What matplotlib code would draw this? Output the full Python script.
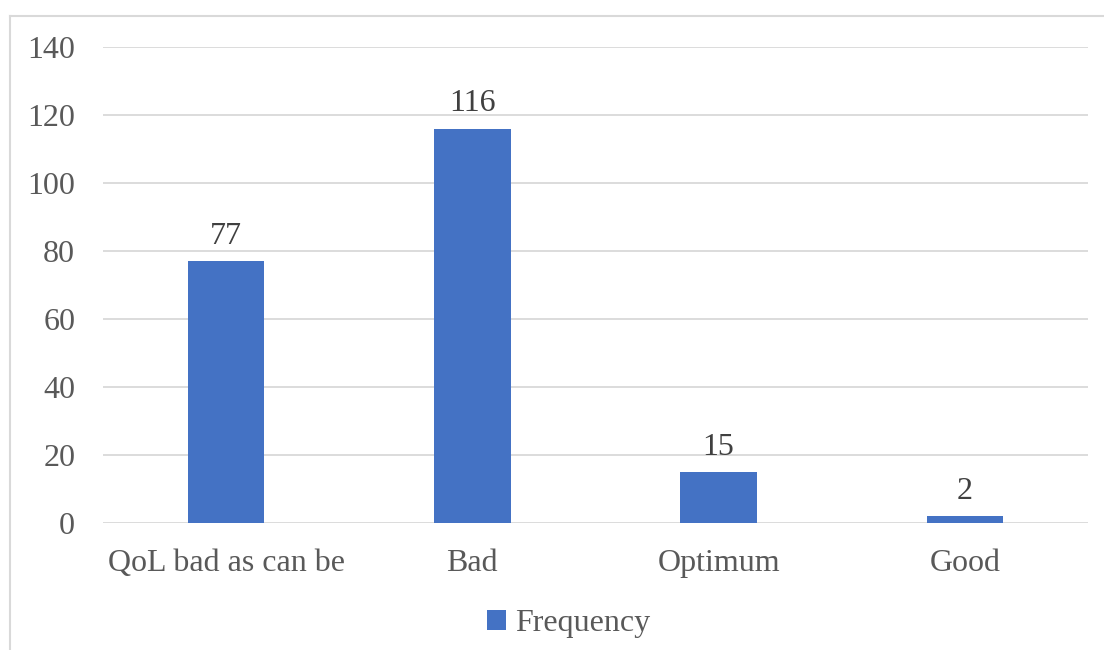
import matplotlib.pyplot as plt
from matplotlib.lines import Line2D

categories = ["QoL bad as can be", "Bad", "Optimum", "Good"]
frequency = [77, 116, 15, 2]
y_ticks = [0, 20, 40, 60, 80, 100, 120, 140]

bar_color = "#4472C4"
text_color = "#595959"
grid_color = "#D9D9D9"

plt.rcParams["font.family"] = ["Liberation Serif", "DejaVu Serif"]

fig = plt.figure(figsize=(11.04, 6.5), dpi=100)
ax = fig.add_axes([0.0933, 0.1954, 0.8922, 0.7323])

x = range(len(categories))
bars = ax.bar(x, frequency, width=0.31, color=bar_color, label="Frequency", zorder=3)

for b, v in zip(bars, frequency):
    ax.text(b.get_x() + b.get_width() / 2, v + 3, str(v), ha="center", va="bottom",
            fontsize=23, color="#404040")

ax.set_xlim(-0.5, len(categories) - 0.5)
ax.set_ylim(0, 140)
ax.set_yticks(y_ticks)
ax.set_xticks(list(x))
ax.set_xticklabels(categories)
ax.tick_params(axis="both", length=0, labelsize=23, labelcolor=text_color)
ax.tick_params(axis="y", pad=20)
ax.tick_params(axis="x", pad=19)
ax.grid(axis="y", color=grid_color, linewidth=1.3, zorder=0)
for s in ax.spines.values():
    s.set_visible(False)

fig.legend(handles=[bars], labels=["Frequency"], loc="center", bbox_to_anchor=(0.515, 0.04),
           frameon=False, fontsize=23, labelcolor=text_color, handlelength=0.6,
           handleheight=0.6, handletextpad=0.3)

# outer chart border (top and left edges)
fig.add_artist(Line2D([0.009, 0.009], [0, 0.9754], transform=fig.transFigure,
                      color=grid_color, linewidth=1.5))
fig.add_artist(Line2D([0.009, 1.0], [0.9754, 0.9754], transform=fig.transFigure,
                      color=grid_color, linewidth=1.5))

fig.savefig("out.png", dpi=100)
